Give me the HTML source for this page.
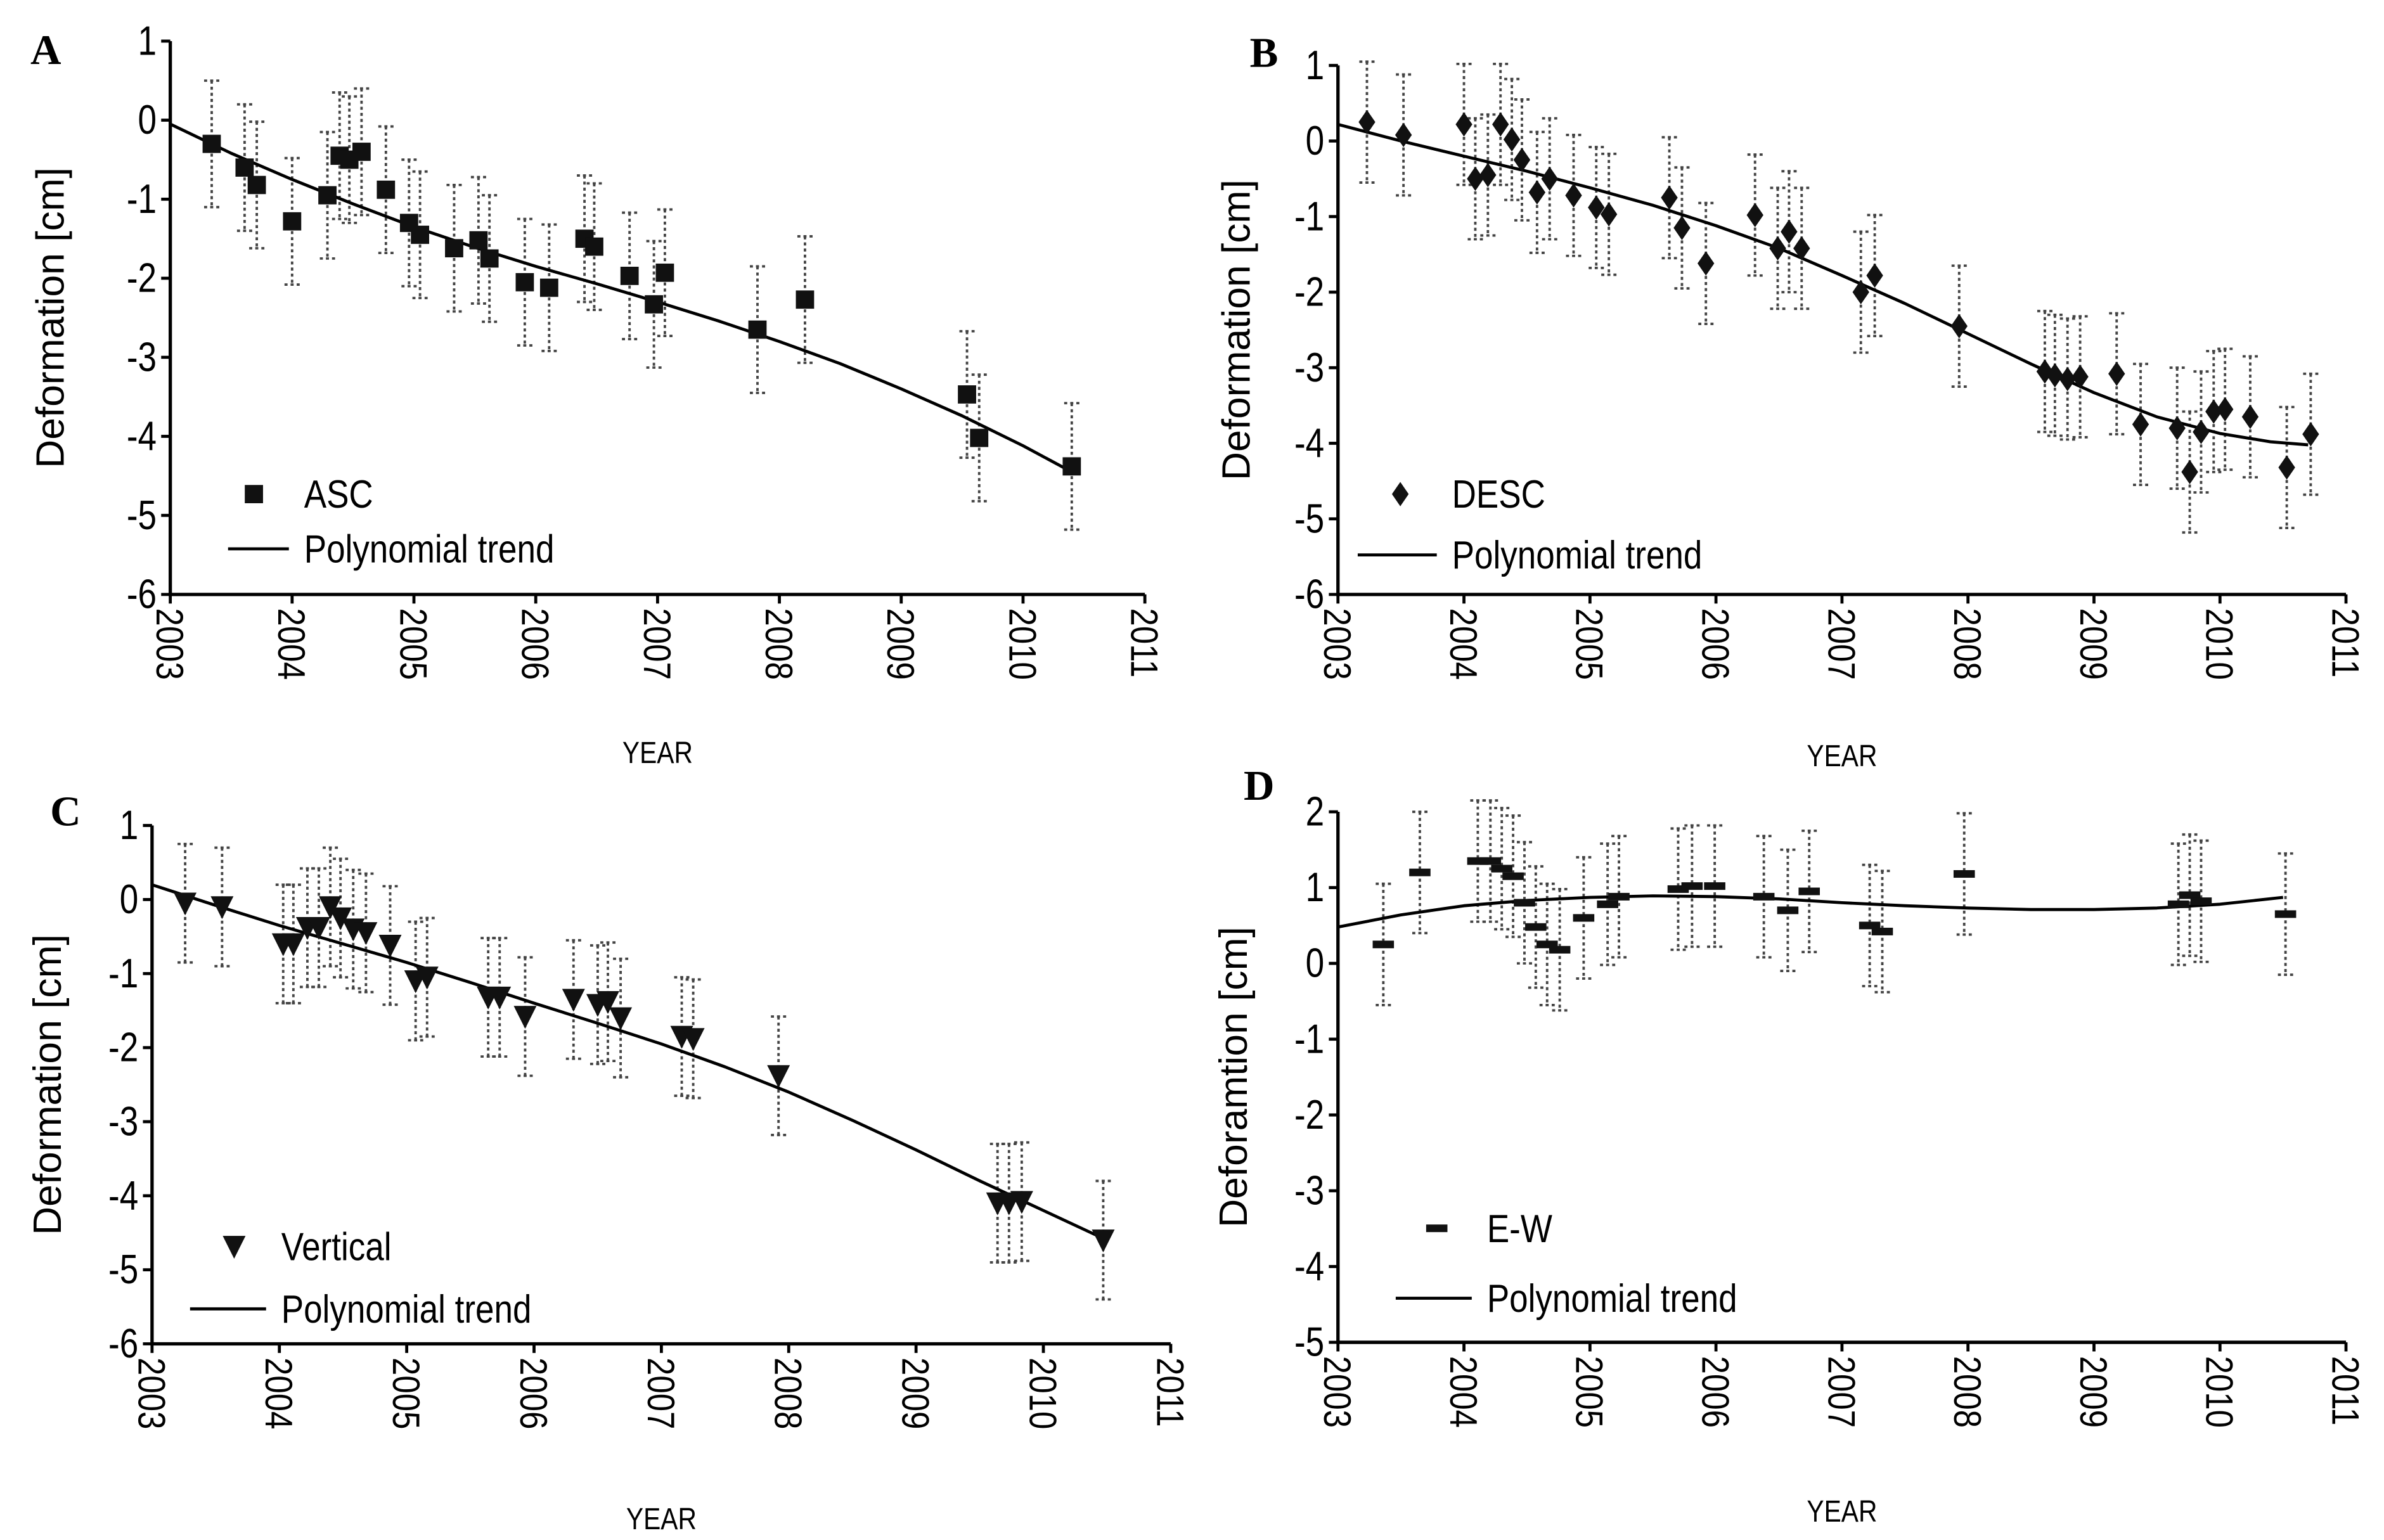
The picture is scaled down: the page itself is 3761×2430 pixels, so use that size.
<!DOCTYPE html>
<html><head><meta charset="utf-8"><style>
html,body{margin:0;padding:0;background:#fff;}
svg{display:block;font-family:"Liberation Sans",sans-serif;}
</style></head><body>
<svg id="fig" width="3761" height="2430" viewBox="0 0 1568 1013" xmlns="http://www.w3.org/2000/svg"></svg>
<script>
// ---- Panel A (ASC) ----
const aYears=[2003.34,2003.61,2003.71,2004.0,2004.29,2004.39,2004.47,2004.57,2004.77,2004.96,2005.05,2005.33,2005.53,2005.62,2005.91,2006.11,2006.40,2006.48,2006.77,2006.97,2007.06,2007.82,2008.21,2009.54,2009.64,2010.40];
const aValues=[-0.3,-0.6,-0.82,-1.28,-0.95,-0.45,-0.5,-0.4,-0.88,-1.3,-1.45,-1.62,-1.52,-1.75,-2.05,-2.12,-1.5,-1.6,-1.97,-2.33,-1.93,-2.65,-2.27,-3.47,-4.02,-4.38];
const aTrendX=[2003,2003.5,2004,2004.5,2005,2005.5,2006,2006.5,2007,2007.5,2008,2008.5,2009,2009.5,2010,2010.4];
const aTrendY=[-0.05,-0.42,-0.75,-1.06,-1.35,-1.61,-1.85,-2.07,-2.3,-2.54,-2.8,-3.08,-3.4,-3.74,-4.12,-4.45];
// ---- Panel B (DESC) ----
const bYears=[2003.23,2003.52,2004.0,2004.09,2004.19,2004.29,2004.38,2004.46,2004.58,2004.68,2004.87,2005.05,2005.15,2005.63,2005.73,2005.92,2006.31,2006.49,2006.58,2006.68,2007.15,2007.26,2007.93,2008.61,2008.69,2008.79,2008.89,2009.18,2009.37,2009.66,2009.76,2009.85,2009.95,2010.04,2010.24,2010.53,2010.72];
const bValues=[0.25,0.08,0.22,-0.5,-0.45,0.22,0.02,-0.25,-0.68,-0.5,-0.72,-0.88,-0.97,-0.75,-1.15,-1.62,-0.98,-1.42,-1.2,-1.42,-2.0,-1.78,-2.45,-3.05,-3.1,-3.15,-3.12,-3.08,-3.75,-3.8,-4.38,-3.85,-3.58,-3.55,-3.65,-4.32,-3.88];
const bTrendX=[2003,2003.5,2004,2004.5,2005,2005.5,2006,2006.5,2007,2007.5,2008,2008.5,2009,2009.5,2010,2010.4,2010.7];
const bTrendY=[0.22,0.0,-0.2,-0.4,-0.62,-0.85,-1.12,-1.42,-1.78,-2.15,-2.55,-2.95,-3.33,-3.65,-3.87,-3.98,-4.02];
// ---- Panel C (Vertical) ----
const cYears=[2003.26,2003.55,2004.03,2004.11,2004.22,2004.31,2004.40,2004.48,2004.58,2004.68,2004.87,2005.07,2005.16,2005.64,2005.73,2005.93,2006.31,2006.50,2006.58,2006.68,2007.16,2007.25,2007.92,2009.64,2009.73,2009.83,2010.47];
const cValues=[-0.05,-0.1,-0.6,-0.6,-0.38,-0.38,-0.1,-0.25,-0.4,-0.45,-0.62,-1.1,-1.05,-1.32,-1.32,-1.58,-1.35,-1.42,-1.38,-1.6,-1.85,-1.88,-2.38,-4.1,-4.1,-4.08,-4.6];
const cTrendX=[2003,2003.5,2004,2004.5,2005,2005.5,2006,2006.5,2007,2007.5,2008,2008.5,2009,2009.5,2010,2010.5];
const cTrendY=[0.2,-0.08,-0.35,-0.6,-0.85,-1.12,-1.4,-1.67,-1.95,-2.26,-2.6,-2.98,-3.38,-3.8,-4.2,-4.6];
// ---- Panel D (E-W) ----
const dYears=[2003.36,2003.65,2004.11,2004.21,2004.30,2004.39,2004.48,2004.57,2004.66,2004.76,2004.95,2005.14,2005.23,2005.70,2005.81,2005.99,2006.38,2006.57,2006.74,2007.22,2007.32,2007.97,2009.67,2009.76,2009.85,2010.52];
const dValues=[0.25,1.2,1.35,1.35,1.25,1.15,0.8,0.48,0.25,0.18,0.6,0.78,0.88,0.98,1.02,1.02,0.88,0.7,0.95,0.5,0.42,1.18,0.78,0.9,0.82,0.65];
const dTrendX=[2003,2003.5,2004,2004.5,2005,2005.5,2006,2006.5,2007,2007.5,2008,2008.5,2009,2009.5,2010,2010.5];
const dTrendY=[0.48,0.64,0.76,0.83,0.87,0.89,0.88,0.85,0.8,0.76,0.73,0.71,0.71,0.73,0.78,0.87];
const xTickLabels=["2003","2004","2005","2006","2007","2008","2009","2010","2011"];

const NS="http://www.w3.org/2000/svg";
const svg=document.getElementById('fig');
function el(tag,attrs,parent,text){const e=document.createElementNS(NS,tag);for(const k in attrs)e.setAttribute(k,attrs[k]);if(text!==undefined)e.textContent=text;(parent||svg).appendChild(e);return e;}

function panel(cfg,years,values,tx,ty){
  const g=el('g',{});
  
  
  const xs=y=>cfg.x0+(y-2003)/8*(cfg.x1-cfg.x0);
  const ys=v=>cfg.yTop+(cfg.vMax-v)/(cfg.vMax-cfg.vMin)*(cfg.yBot-cfg.yTop);
  const ax=el('path',{d:`M${cfg.x0},${cfg.yTop}V${cfg.yBot}H${cfg.x1}`,stroke:'#000','stroke-width':2.2,fill:'none'},g);
  
  
  for(let v=cfg.vMin;v<=cfg.vMax;v++){
    el('line',{x1:cfg.x0-6,x2:cfg.x0,y1:ys(v),y2:ys(v),stroke:'#000','stroke-width':2},g);
    const t=el('text',{x:0,y:0,'text-anchor':'end','font-size':27,transform:`translate(${cfg.x0-9},${ys(v)+9}) scale(0.82,1)`},g,String(v));
    
    
  }
  xTickLabels.forEach((lab,i)=>{
    const x=xs(2003+i);
    el('line',{x1:x,x2:x,y1:cfg.yBot,y2:cfg.yBot+6,stroke:'#000','stroke-width':2},g);
    const t=el('text',{x:0,y:0,'font-size':25,transform:`translate(${x-9},${cfg.yBot+9}) rotate(90) scale(0.85,1)`},g,lab);
    
    
  });
  years.forEach((yr,i)=>{
    const x=xs(yr),v=values[i];
    const e=el('g',{stroke:'#444','stroke-width':1.6,'stroke-dasharray':'2,2'},g);
    
    
    el('line',{x1:x,x2:x,y1:ys(v+0.8),y2:ys(v-0.8)},e);
    el('line',{x1:x-5,x2:x+5,y1:ys(v+0.8),y2:ys(v+0.8)},e);
    el('line',{x1:x-5,x2:x+5,y1:ys(v-0.8),y2:ys(v-0.8)},e);
  });
  let d='';tx.forEach((t,i)=>{d+=(i?'L':'M')+xs(t).toFixed(1)+','+ys(ty[i]).toFixed(1);});
  const tr=el('path',{d,stroke:'#000','stroke-width':2,fill:'none','stroke-linejoin':'round'},g);
  
  
  years.forEach((yr,i)=>{
    const m=marker(cfg.marker,xs(yr),ys(values[i]),g);
    
    
  });
  const lm=marker(cfg.marker,cfg.legX,cfg.legY1,g);
  
  
  const l1=el('text',{x:0,y:0,'font-size':26,transform:`translate(${cfg.legTX},${cfg.legY1+9}) scale(0.85,1)`},g,cfg.series);
  
  
  const ll=el('line',{x1:cfg.legL0,x2:cfg.legTX-10,y1:cfg.legY2,y2:cfg.legY2,stroke:'#000','stroke-width':2},g);
  
  
  const l2=el('text',{x:0,y:0,'font-size':26,transform:`translate(${cfg.legTX},${cfg.legY2+9}) scale(0.85,1)`},g,'Polynomial trend');
  
  
  const yt=el('text',{x:0,y:0,'font-size':26,'text-anchor':'middle',transform:`translate(${cfg.yTitleX},${(cfg.yTop+cfg.yBot)/2}) rotate(-90)`},g,cfg.yTitle);
  
  
  const xt=el('text',{x:0,y:0,'font-size':20,'text-anchor':'middle',transform:`translate(${(cfg.x0+cfg.x1)/2},${cfg.xTitleY}) scale(0.85,1)`},g,'YEAR');
  
  
  const pl=el('text',{x:cfg.letX,y:cfg.letY,'font-size':28,'font-weight':'bold','font-family':'Liberation Serif, serif'},g,cfg.id);
  
  
}
function marker(type,x,y,p){
  if(type==='square')return el('rect',{x:x-6,y:y-6,width:12,height:12,fill:'#111'},p);
  if(type==='diamond')return el('path',{d:`M${x},${y-8}L${x+5.5},${y}L${x},${y+8}L${x-5.5},${y}Z`,fill:'#111'},p);
  if(type==='tri')return el('path',{d:`M${x-7.5},${y-7}L${x+7.5},${y-7}L${x},${y+8}Z`,fill:'#111'},p);
  return el('rect',{x:x-7,y:y-2.5,width:14,height:5,fill:'#111'},p);
}
panel({id:'A',x0:112,x1:753,yTop:27,yBot:391,vMin:-6,vMax:1,marker:'square',series:'ASC',legX:167,legY1:325,legTX:200,legL0:150,legY2:361,yTitle:'Deformation [cm]',yTitleX:42,xTitleY:502,letX:20,letY:42},aYears,aValues,aTrendX,aTrendY);
panel({id:'B',x0:880,x1:1543,yTop:43,yBot:391,vMin:-6,vMax:1,marker:'diamond',series:'DESC',legX:921,legY1:325,legTX:955,legL0:893,legY2:365,yTitle:'Deformation [cm]',yTitleX:822,xTitleY:504,letX:822,letY:44},bYears,bValues,bTrendX,bTrendY);
panel({id:'C',x0:100,x1:770,yTop:543,yBot:884,vMin:-6,vMax:1,marker:'tri',series:'Vertical',legX:154,legY1:820,legTX:185,legL0:125,legY2:861,yTitle:'Deformation [cm]',yTitleX:40,xTitleY:1006,letX:33,letY:543},cYears,cValues,cTrendX,cTrendY);
panel({id:'D',x0:880,x1:1543,yTop:534,yBot:883,vMin:-5,vMax:2,marker:'dash',series:'E-W',legX:945,legY1:808,legTX:978,legL0:918,legY2:854,yTitle:'Deforamtion [cm]',yTitleX:820,xTitleY:1001,letX:818,letY:526},dYears,dValues,dTrendX,dTrendY);
</script>
</body></html>
